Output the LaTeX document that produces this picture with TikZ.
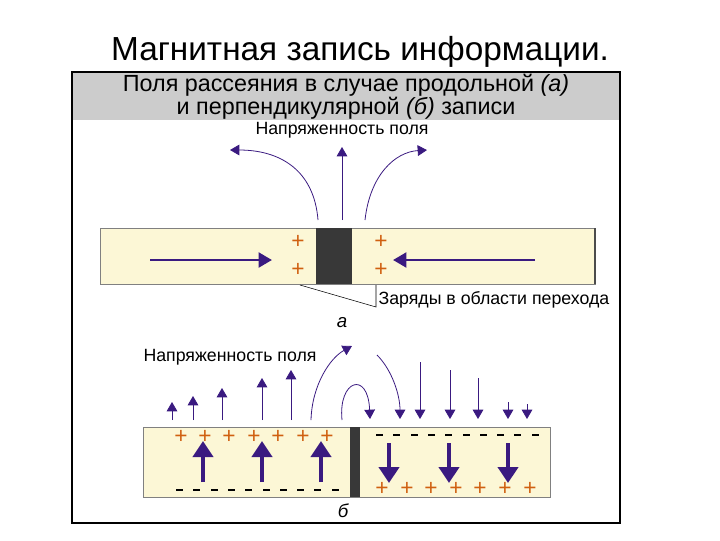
\documentclass[tikz,border=0pt]{standalone}
\usepackage{fontspec}
\setmainfont{Liberation Sans}
\usetikzlibrary{arrows.meta}
\definecolor{arr}{HTML}{3A1A80}
\definecolor{strip}{HTML}{FCF7D6}
\definecolor{plusc}{HTML}{D06010}
\tikzset{
 thin arr/.style={draw=arr,line width=0.6pt,-{Triangle[length=7pt,width=8pt]}},
 fat arr/.style={draw=arr,line width=3.2pt,-{Triangle[length=12pt,width=15pt]}},
 mid arr/.style={draw=arr,line width=2.2pt,-{Triangle[length=10pt,width=11pt]}},
 pl/.style={text=plusc,font=\fontsize{17}{17}\selectfont,inner sep=0pt},
 lbl/.style={font=\fontsize{13.3}{15}\selectfont,inner sep=1pt},
}
\begin{document}
\begin{tikzpicture}[x=0.75pt,y=-0.75pt]
\useasboundingbox (0,0) rectangle (720,540);
\node (title) at (360,52) {\fontsize{25}{28}\selectfont Магнитная запись информации.};
\fill[gray!40] (72,72) rectangle (620,120);
\draw[line width=1.5pt] (72,72) rectangle (620,523);
\node[align=center,font=\fontsize{17.5}{16.5}\selectfont] (head) at (346,97) {Поля рассеяния в случае продольной \textit{(а)}\\и перпендикулярной \textit{(б)} записи};
% part a
\node[lbl] (fa) at (342,130) {Напряженность поля};
\draw[gray,fill=strip] (100,228) rectangle (595,284);
\draw[gray!60!black,line width=1pt] (595,228) -- (595,284);
\fill[black!78] (316,228) rectangle (352,284);
\node[pl] (p1) at (298,242) {+};
\node[pl] (p2) at (298,270) {+};
\node[pl] (p3) at (381,242) {+};
\node[pl] (p4) at (381,270) {+};
\coordinate (ra) at (150,260); \coordinate (rb) at (272,260);
\coordinate (la) at (535,260); \coordinate (lb) at (393,260);
\draw[mid arr] (ra) -- (rb);
\draw[mid arr] (la) -- (lb);
\coordinate (c0) at (342,220); \coordinate (c1) at (342,147);
\draw[thin arr] (c0) -- (c1);
\coordinate (l0) at (318,220); \coordinate (l1) at (230,150);
\draw[thin arr] (l0) .. controls (314,170) and (280,150) .. (l1);
\coordinate (r0) at (365,220); \coordinate (r1) at (427,150);
\draw[thin arr] (r0) .. controls (370,175) and (395,152) .. (r1);
\coordinate (q0) at (300,285); \coordinate (q1) at (376,307); \coordinate (q2) at (376,285);
\draw[thin,black] (q0) -- (q1) -- (q2);
\node[lbl,anchor=west] (zar) at (377,300) {Заряды в области перехода};
\node[font=\fontsize{14}{15}\selectfont\itshape] (a) at (342,323) {а};
% part b
\node[lbl] (fb) at (230,357) {Напряженность поля};
\draw[gray,fill=strip] (143,427) rectangle (550,497);
\fill[black!78] (350,427) rectangle (360,497);
\foreach \x in {181,205,229,254,278,303,327} \node[pl] at (\x,437) {+};
\foreach \x in {382,407,431,456,480,505,530} \node[pl] at (\x,489) {+};
\foreach \i in {0,...,9} {
  \fill ({176+\i*17.3},488.5) rectangle ({183+\i*17.3},490.5);
  \fill ({376+\i*17.3},434) rectangle ({383+\i*17.3},436);}
\foreach \x in {203,262,321} \draw[fat arr] (\x,482) -- (\x,441);
\foreach \x in {389,449,508} \draw[fat arr] (\x,443) -- (\x,483);
\foreach \x/\y in {172/402,193/396,222/388,262/378,291/370}
  \draw[thin arr] (\x,420) -- (\x,\y);
\foreach \x/\y in {420/362,450/370,478/378,508/402,527/404}
  \draw[thin arr] (\x,\y) -- (\x,419);
\coordinate (s0) at (311,420); \coordinate (s1) at (352,346);
\draw[thin arr] (s0) .. controls (312,385) and (330,358) .. (s1);
\coordinate (h0) at (342,420); \coordinate (h1) at (370,419);
\draw[thin arr] (h0) .. controls (338,380) and (368,370) .. (h1);
\coordinate (k0) at (377,355); \coordinate (k1) at (400,419);
\draw[thin arr] (k0) .. controls (392,370) and (400,395) .. (k1);
\node[font=\fontsize{14}{15}\selectfont\itshape] (b) at (343,511) {б};
\end{tikzpicture}
\end{document}
